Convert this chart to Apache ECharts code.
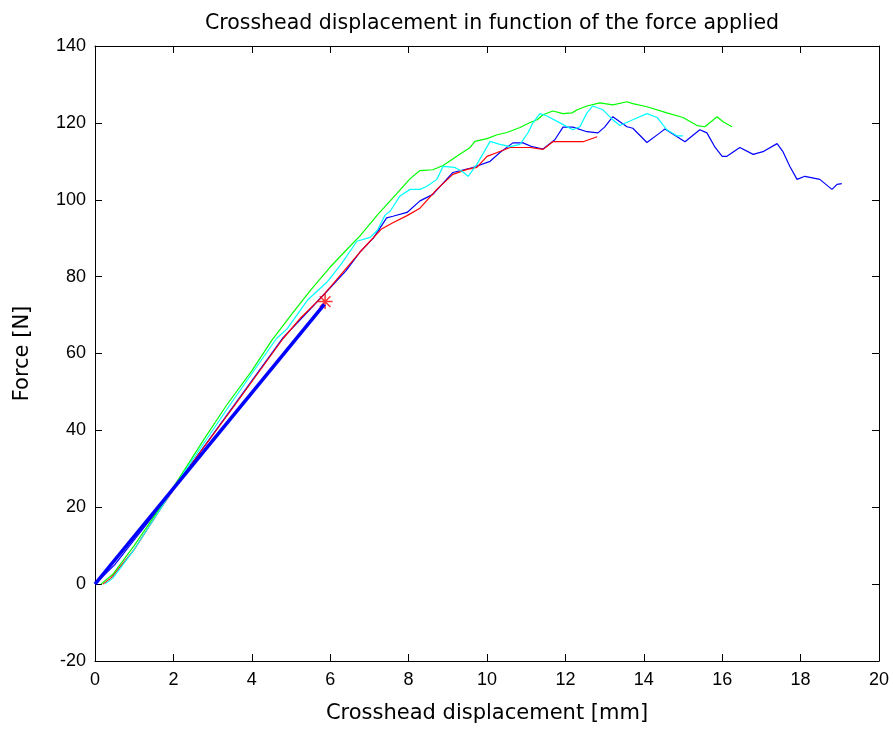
<!DOCTYPE html>
<html>
<head>
<meta charset="utf-8">
<script src="https://cdn.jsdelivr.net/npm/echarts@6/dist/echarts.min.js"></script>
<style>
  html, body { margin: 0; padding: 0; background: #fff; }
  #chart { width: 893px; height: 729px; }
</style>
</head>
<body>
<div id="chart"></div>
<script>
// tick labels
const xTicks = [0, 2, 4, 6, 8, 10, 12, 14, 16, 18, 20]
const yTicks = [-20, 0, 20, 40, 60, 80, 100, 120, 140]

// measured curves [displacement mm, force N]
const blueTest = [[0, 0], [0.5, 5], [1, 11.5], [1.7, 20.5], [2.3, 29], [3.55, 46.6], [4.78, 63.9], [5.3, 69.5], [5.9, 76], [6.4, 81.5], [6.76, 86.4], [7.1, 90], [7.44, 95.3], [7.6, 95.7], [7.96, 96.7], [8.29, 99.7], [8.62, 101.4], [9.13, 107.1], [9.64, 108.4], [10.08, 110], [10.33, 112.3], [10.66, 114.8], [10.92, 114.8], [11.15, 113.8], [11.43, 113.2], [11.73, 115.6], [11.94, 118.9], [12.19, 118.9], [12.55, 117.7], [12.83, 117.4], [13, 118.9], [13.21, 121.6], [13.57, 119], [13.72, 118.6], [14.08, 114.9], [14.41, 117.4], [14.54, 118.4], [14.85, 116.4], [15.05, 115.1], [15.43, 118.2], [15.61, 117.4], [15.82, 113.6], [16, 111.3], [16.12, 111.3], [16.45, 113.6], [16.79, 111.8], [17.04, 112.5], [17.4, 114.6], [17.55, 112.5], [17.73, 108.6], [17.91, 105.3], [18.11, 106.1], [18.49, 105.3], [18.8, 102.7], [18.93, 104], [19.05, 104.2]]
const redTest = [[0.2, 0], [0.4, 1.5], [1, 9], [1.7, 20], [2.3, 29], [3.57, 46.6], [4.8, 63.9], [5.23, 69.1], [5.74, 74.2], [6.04, 77.7], [6.76, 86.4], [7.31, 92.4], [7.61, 94.1], [7.95, 95.8], [8.29, 97.8], [8.72, 102.7], [9.13, 106.6], [9.49, 107.9], [9.74, 108.4], [10, 111.3], [10.26, 112.3], [10.59, 113.6], [11.1, 113.6], [11.43, 113.1], [11.68, 115.1], [12.04, 115.1], [12.45, 115.1], [12.81, 116.4]]
const greenTest = [[0.15, 0], [0.45, 2.5], [1, 10], [1.7, 20.5], [2.3, 30], [2.8, 38], [3.36, 46.6], [4, 55.5], [4.51, 63.4], [5, 70], [5.5, 76.5], [6, 82.5], [6.4, 86.8], [6.76, 90.6], [7.2, 96], [7.6, 100.5], [8.04, 105.5], [8.29, 107.6], [8.62, 107.8], [8.88, 108.9], [9.23, 111.3], [9.57, 113.6], [9.69, 115.2], [10, 115.9], [10.26, 116.9], [10.51, 117.5], [10.84, 118.8], [11.1, 120.1], [11.28, 120.8], [11.43, 122.1], [11.68, 123.1], [11.94, 122.4], [12.17, 122.6], [12.3, 123.4], [12.55, 124.4], [12.88, 125.2], [13.21, 124.7], [13.57, 125.5], [13.72, 125], [14.08, 124.2], [14.59, 122.6], [15, 121.4], [15.36, 119.3], [15.56, 119], [15.87, 121.6], [16.02, 120.3], [16.25, 119]]
const cyanTest = [[0.25, 0], [0.45, 1.5], [1, 9], [1.7, 20], [2.3, 29.5], [3.44, 46.6], [4.63, 63.9], [4.9, 66.4], [5.43, 74], [5.92, 78.6], [6.3, 83.5], [6.68, 89.2], [7.02, 90.2], [7.2, 92], [7.4, 96], [7.53, 97], [7.78, 101], [8.04, 102.7], [8.29, 102.7], [8.47, 103.5], [8.72, 105.3], [8.88, 108.7], [9.18, 108.4], [9.36, 107.4], [9.52, 106.1], [9.74, 109.2], [10.08, 115.2], [10.33, 114.4], [10.59, 113.8], [10.84, 114.4], [11.05, 117.5], [11.17, 120], [11.35, 122.4], [11.53, 121.8], [11.86, 120], [12.19, 118.2], [12.37, 119], [12.55, 122.6], [12.7, 124.4], [12.96, 123.4], [13.21, 120.8], [13.39, 119.3], [13.72, 120.8], [14.08, 122.4], [14.34, 121.4], [14.59, 118.2], [14.85, 116.6], [15, 116.6]]
// linear fit and its end point
const fitLine = [[0, 0], [5.85, 72.8]]
const fitEnd = [[5.87, 73.5]]

const asterisk = 'path://M9,0L11,0L11,20L9,20Z M0,9L20,9L20,11L0,11Z M2.2,3.6L3.6,2.2L17.8,16.4L16.4,17.8Z M16.4,2.2L17.8,3.6L3.6,17.8L2.2,16.4Z'
const tickFont = "'Liberation Sans', Arial, sans-serif"
const textFont = "'DejaVu Sans', Verdana, sans-serif"

const chart = echarts.init(document.getElementById('chart'))

function thin (data, color) {
  return {
    type: 'line',
    data: data,
    symbol: 'none',
    lineStyle: { color: color, width: 1.2 }
  }
}

const axisCommon = {
  type: 'value',
  axisLine: { show: true, onZero: false, lineStyle: { color: '#000', width: 1 } },
  axisTick: { show: true, inside: true, length: 7, lineStyle: { color: '#000' } },
  splitLine: { show: false }
}

const option = {
  animation: false,
  title: {
    text: 'Crosshead displacement in function of the force applied',
    left: 487,
    textAlign: 'center',
    top: 8,
    textStyle: { fontFamily: textFont, fontSize: 20.5, fontWeight: 'normal', color: '#000' }
  },
  grid: { left: 95, right: 14, top: 46, bottom: 65 },
  xAxis: [
    Object.assign({}, axisCommon, {
      min: 0, max: 20, interval: 2,
      position: 'bottom',
      name: 'Crosshead displacement [mm]',
      nameLocation: 'middle',
      nameGap: 42,
      nameTextStyle: { fontFamily: textFont, fontSize: 21, color: '#000' },
      axisLabel: { margin: 10, fontFamily: tickFont, fontSize: 18, color: '#000', formatter: v => xTicks.includes(v) ? String(v) : '' }
    }),
    Object.assign({}, axisCommon, {
      min: 0, max: 20, interval: 2,
      position: 'top',
      axisLabel: { show: false }
    })
  ],
  yAxis: [
    Object.assign({}, axisCommon, {
      min: -20, max: 140, interval: 20,
      position: 'left',
      name: 'Force [N]',
      nameLocation: 'middle',
      nameGap: 62,
      nameTextStyle: { fontFamily: textFont, fontSize: 21, color: '#000' },
      axisLabel: { margin: 9, fontFamily: tickFont, fontSize: 18, color: '#000', formatter: v => yTicks.includes(v) ? String(v) : '' }
    }),
    Object.assign({}, axisCommon, {
      min: -20, max: 140, interval: 20,
      position: 'right',
      axisLabel: { show: false }
    })
  ],
  series: [
    thin(blueTest, '#0000ff'),
    thin(redTest, '#ff0000'),
    thin(greenTest, '#00ff00'),
    thin(cyanTest, '#00ffff'),
    {
      type: 'line',
      data: fitLine,
      symbol: 'none',
      lineStyle: { color: '#0000ff', width: 3.5 }
    },
    {
      type: 'scatter',
      data: fitEnd,
      symbol: asterisk,
      symbolSize: 15,
      itemStyle: { color: '#ff0000' }
    }
  ]
}

chart.setOption(option)
</script>
</body>
</html>
